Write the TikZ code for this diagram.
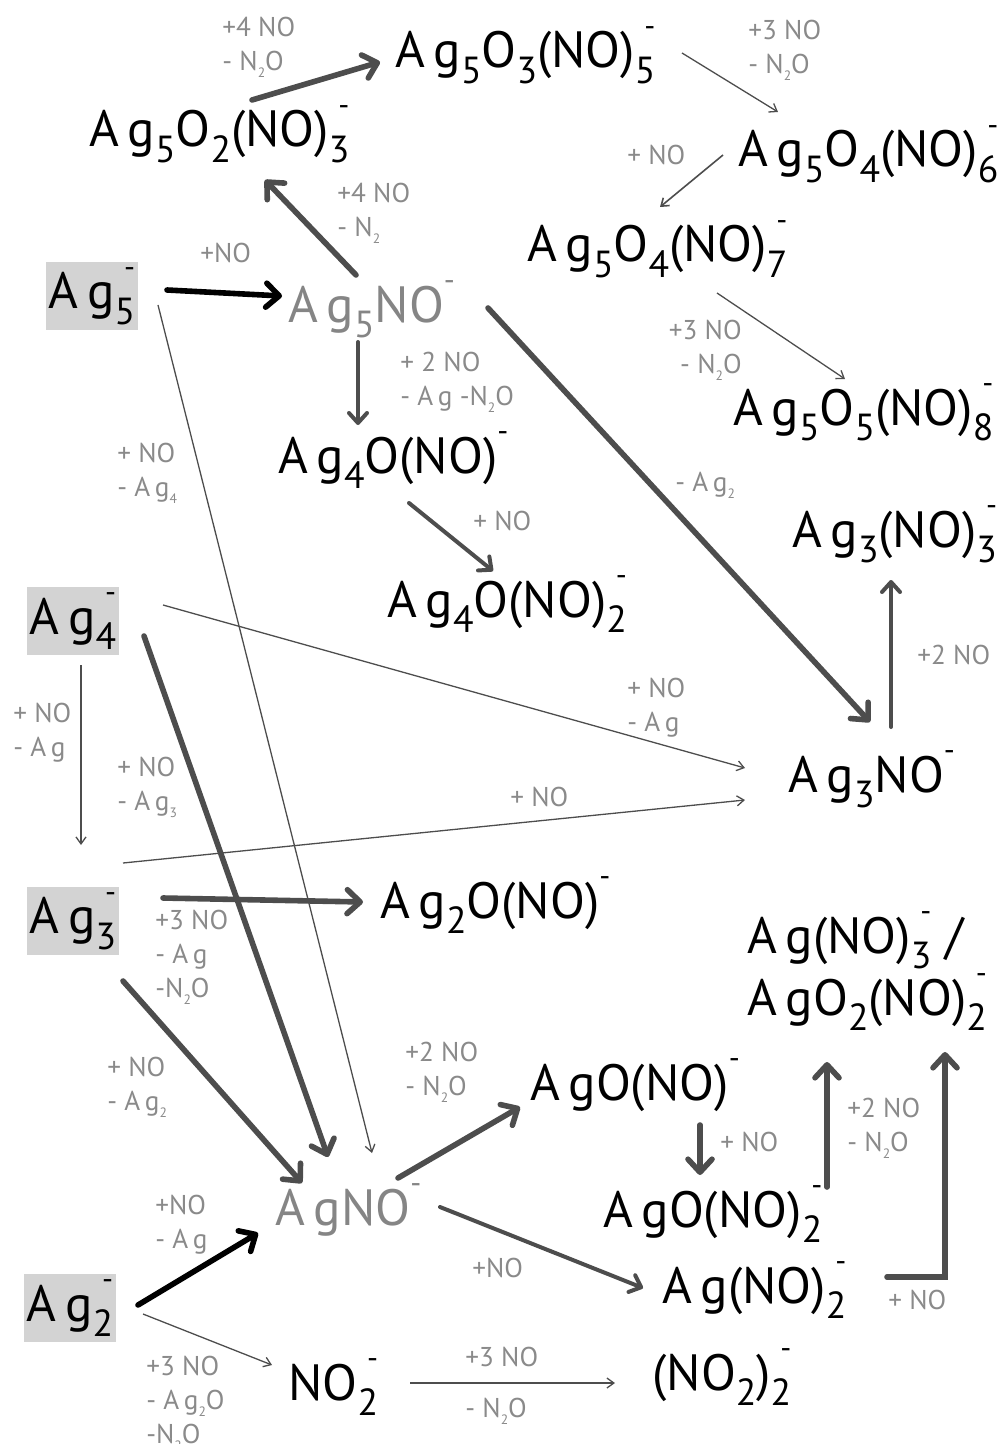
\documentclass[tikz,border=0pt]{standalone}
\usepackage{fontspec}
\setmainfont{PT Sans}
\usepackage{graphicx}
\usepackage{tikz}
\usetikzlibrary{arrows.meta,calc}
\definecolor{darkline}{HTML}{4D4D4D}
\definecolor{note}{HTML}{8A8A8A}
\definecolor{faded}{HTML}{858585}
\definecolor{clusterfill}{HTML}{D3D3D3}
\newcommand{\Ag}{A\,g}
\newcommand{\ix}[1]{\raisebox{-0.3em}{\scalebox{0.74}{#1}}}
\newcommand{\ixm}[1]{\ix{#1}\llap{\raisebox{0.62em}{\scalebox{0.6}{-}}}}
\newcommand{\mn}{\raisebox{0.62em}{\scalebox{0.6}{-}}}
\newcommand{\lix}[1]{\raisebox{-0.25em}{\scalebox{0.5}{#1}}}

\begin{document}
\begin{tikzpicture}[x=0.5pt,y=-0.5pt]
  \tikzset{ion/.style={inner sep=0pt,anchor=base west,font=\fontsize{25.5}{31}\selectfont},
    bare/.style={ion,text=faded},
    cluster/.style={fill=clusterfill,inner sep=0pt,minimum width=46pt,minimum height=34pt,font=\fontsize{25.5}{31}\selectfont},
    lbl/.style={inner sep=0pt,anchor=north west,align=left,text=note,font=\fontsize{13.6}{17}\selectfont},
    faint/.style={draw=darkline,line width=0.65pt,-{Straight Barb[length=3.5pt,width=5pt]}},
    mid/.style={draw=darkline,line width=2pt,line cap=round,-{Straight Barb[length=5pt,width=9pt,round]}},
    strong/.style={draw=darkline,line width=2.8pt,line cap=round,-{Straight Barb[length=6.5pt,width=12pt,round]}},
    lead/.style={strong,draw=black}}
  \useasboundingbox (0,0) rectangle (1006,1444);

  \node[cluster] (ag5) at (92,296) {\Ag\ixm{5}};
  \node[cluster] (ag4) at (73,621) {\Ag\ixm{4}};
  \node[cluster] (ag3) at (73,921) {\Ag\ixm{3}};
  \node[cluster] (ag2) at (70,1308) {\Ag\ixm{2}};

  \node[ion] (ag5o3) at (395,68) {\Ag\ix{5}O\ix{3}(NO)\ixm{5}};
  \node[ion] (ag5o2) at (89,147) {\Ag\ix{5}O\ix{2}(NO)\ixm{3}};
  \node[ion] (ag5o4a) at (738,167) {\Ag\ix{5}O\ix{4}(NO)\ixm{6}};
  \node[ion] (ag5o4b) at (527,262) {\Ag\ix{5}O\ix{4}(NO)\ixm{7}};
  \node[bare] (ag5no) at (288,322) {\Ag\ix{5}NO\mn};
  \node[ion] (ag5o5) at (733,425) {\Ag\ix{5}O\ix{5}(NO)\ixm{8}};
  \node[ion] (ag4o) at (278,473) {\Ag\ix{4}O(NO)\mn};
  \node[ion] (ag3no3) at (792,547) {\Ag\ix{3}(NO)\ixm{3}};
  \node[ion] (ag4o2) at (387,617) {\Ag\ix{4}O(NO)\ixm{2}};
  \node[ion] (ag3no) at (788,792) {\Ag\ix{3}NO\mn};
  \node[ion] (ag2o) at (380,918) {\Ag\ix{2}O(NO)\mn};
  \node[ion,align=left] (agno3) at (747,1015) {\Ag(NO)\ixm{3} /\\\Ag O\ix{2}(NO)\ixm{2}};
  \node[ion] (ago) at (530,1100) {\Ag O(NO)\mn};
  \node[bare] (agno) at (275,1225) {\Ag NO\mn};
  \node[ion] (ago2) at (603,1227) {\Ag O(NO)\ixm{2}};
  \node[ion] (agno2) at (662,1303) {\Ag(NO)\ixm{2}};
  \node[ion] (no2) at (288,1400) {NO\ixm{2}};
  \node[ion] (no2d) at (652,1390) {(NO\ix{2})\ixm{2}};

  \draw[strong] ($(ag5o2.base west)+(163,-47)$) -- ($(ag5o3.base west)+(-15,-6)$);
  \draw[faint] ($(ag5o3.base west)+(287,-15)$) -- ($(ag5o4a.base west)+(40,-55)$);
  \draw[faint,line width=0.8pt] ($(ag5o4a.base west)+(-15,-12)$) -- ($(ag5o4b.base west)+(133,-55)$);
  \draw[strong] ($(ag5no.base west)+(68,-47)$) -- ($(ag5o2.base west)+(176,33)$);
  \draw[lead] ($(ag5)+(75,-6)$) -- ($(ag5no.base west)+(-6,-26)$);
  \draw[faint] ($(ag5o4b.base west)+(190,31)$) -- ($(ag5o5.base west)+(112,-46)$);
  \draw[mid] ($(ag5no.base west)+(70,20)$) -- ($(ag4o.base west)+(80,-48)$);
  \draw[strong] ($(ag5no.base west)+(200,-14)$) -- ($(ag3no.base west)+(82,-70)$);
  \draw[faint] ($(ag5)+(66,9)$) -- ($(agno.base west)+(97,-72)$);
  \draw[mid] ($(ag4o.base west)+(131,30)$) -- ($(ag4o2.base west)+(106,-46)$);
  \draw[mid] ($(ag3no.base west)+(103,-65)$) -- ($(ag3no3.base west)+(99,33)$);
  \draw[faint] ($(ag4)+(90,-16)$) -- ($(ag3no.base west)+(-43,-24)$);
  \draw[strong] ($(ag4)+(71,15)$) -- ($(agno.base west)+(53,-68)$);
  \draw[faint] ($(ag4)+(8,44)$) -- ($(ag3)+(8,-76)$);
  \draw[faint] ($(ag3)+(50,-58)$) -- ($(ag3no.base west)+(-43,8)$);
  \draw[strong] ($(ag3)+(90,-23)$) -- ($(ag2o.base west)+(-17,-16)$);
  \draw[strong] ($(ag3)+(50,60)$) -- ($(agno.base west)+(27,-42)$);
  \draw[strong] ($(agno.base west)+(123,-47)$) -- ($(ago.base west)+(-10,7)$);
  \draw[strong] ($(ago.base west)+(170,25)$) -- ($(ago2.base west)+(97,-52)$);
  \draw[strong] ($(ago2.base west)+(224,-40)$) -- ($(agno3.base west)+(80,47)$);
  \draw[mid] ($(agno.base west)+(165,-18)$) -- ($(agno2.base west)+(-19,-15)$);
  \draw[strong] ($(agno2.base west)+(225,-26)$) -| ($(agno3.base west)+(198,37)$);
  \draw[lead] ($(ag2)+(68,-3)$) -- ($(agno.base west)+(-17,8)$);
  \draw[faint] ($(ag2)+(73,6)$) -- ($(no2.base west)+(-16,-35)$);
  \draw[faint] ($(no2.base west)+(122,-17)$) -- ($(no2d.base west)+(-37,-7)$);

  \node[lbl] (l-ag5o2) at (222,17) {+4 NO\\- N\lix{2}O};
  \node[lbl] (l-ag5o3) at (748,20) {+3 NO\\- N\lix{2}O};
  \node[lbl] (l-ag5o4a) at (627,145) {+ NO};
  \node[lbl] (l-ag5no-up) at (337,183) {+4 NO\\- N\lix{2}};
  \node[lbl] (l-ag5) at (200,243) {+NO};
  \node[lbl,anchor=north east,align=right] (l-ag5o4b) at (742,320) {+3 NO\\- N\lix{2}O};
  \node[lbl] (l-ag5no-down) at (400,352) {+ 2 NO\\- \Ag{} -N\lix{2}O};
  \node[lbl] (l-ag5no-right) at (675,472) {- \Ag\lix{2}};
  \node[lbl] (l-ag5-agno) at (117,443) {+ NO\\- \Ag\lix{4}};
  \node[lbl] (l-ag4o) at (473,511) {+ NO};
  \node[lbl] (l-ag3no) at (917,645) {+2 NO};
  \node[lbl] (l-ag4-ag3no) at (627,678) {+ NO\\- \Ag};
  \node[lbl] (l-ag4-agno) at (117,757) {+ NO\\- \Ag\lix{3}};
  \node[lbl] (l-ag4-ag3) at (13,703) {+ NO\\- \Ag};
  \node[lbl] (l-ag3-ag3no) at (510,787) {+ NO};
  \node[lbl] (l-ag3-ag2o) at (155,910) {+3 NO\\- \Ag\\-N\lix{2}O};
  \node[lbl] (l-ag3-agno) at (107,1057) {+ NO\\- \Ag\lix{2}};
  \node[lbl] (l-agno-ago) at (405,1042) {+2 NO\\- N\lix{2}O};
  \node[lbl] (l-ago) at (720,1132) {+ NO};
  \node[lbl] (l-ago2) at (847,1098) {+2 NO\\- N\lix{2}O};
  \node[lbl] (l-agno-agno2) at (472,1258) {+NO};
  \node[lbl] (l-agno2) at (888,1290) {+ NO};
  \node[lbl] (l-ag2-agno) at (155,1195) {+NO\\- \Ag};
  \node[lbl] (l-ag2-no2) at (146,1356) {+3 NO\\- \Ag\lix{2}O\\-N\lix{2}O};
  \node[lbl] (l-no2-top) at (465,1347) {+3 NO};
  \node[lbl] (l-no2-bottom) at (465,1398) {- N\lix{2}O};
\end{tikzpicture}
\end{document}
